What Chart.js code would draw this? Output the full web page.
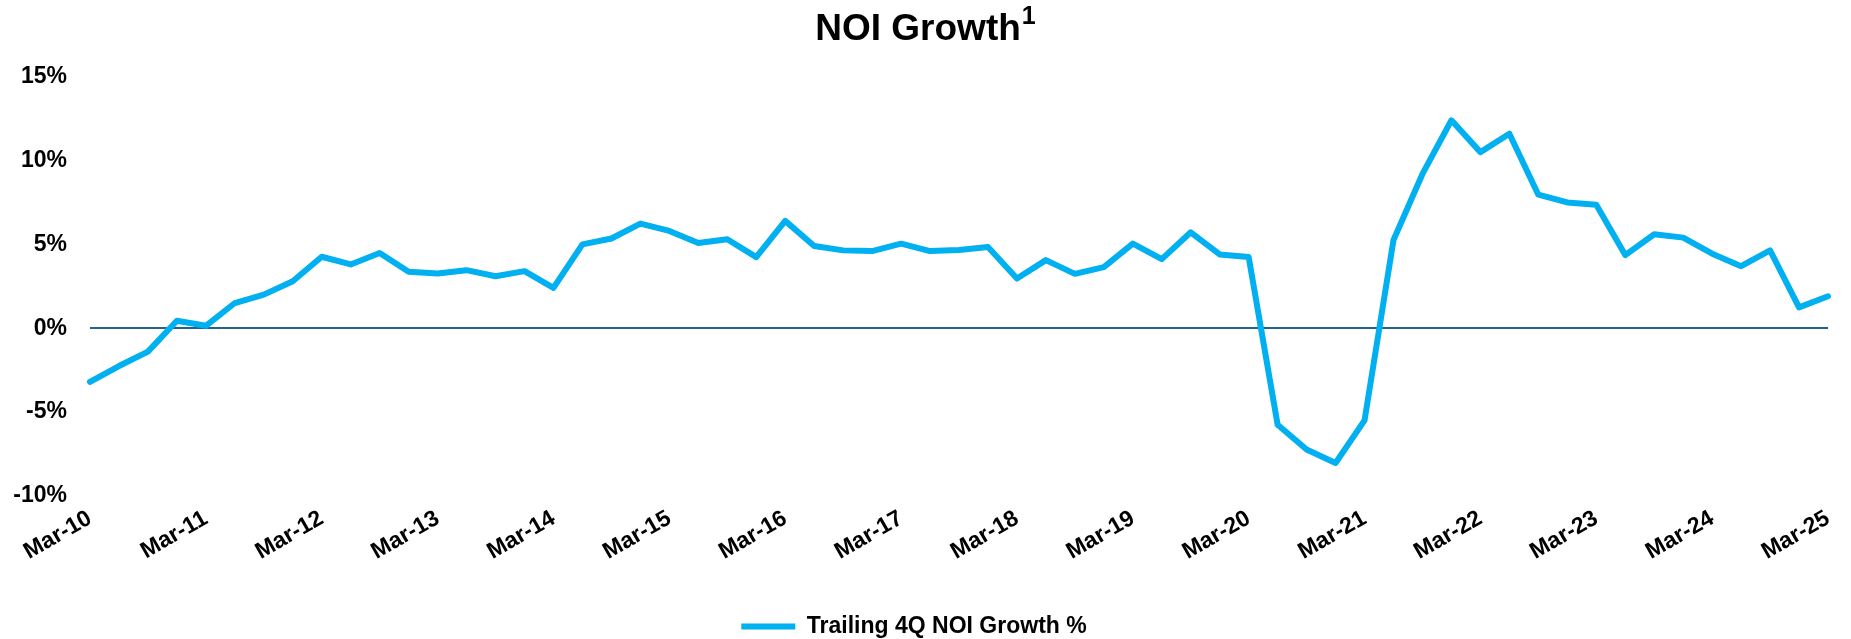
<!DOCTYPE html>
<html>
<head>
<meta charset="utf-8">
<title>NOI Growth</title>
<script src="https://cdn.jsdelivr.net/npm/chart.js@4/dist/chart.umd.min.js"></script>
<style>
    html, body { margin: 0; padding: 0; background: #ffffff; }
    #noiChart { display: block; }
</style>
</head>
<body>
<canvas id="noiChart" width="1851" height="639"></canvas>
<script>
// Quarterly periods, Mar-10 through Mar-25
const years = ['10', '11', '12', '13', '14', '15', '16', '17', '18', '19', '20', '21', '22', '23', '24', '25'];
const quarterMonths = ['Mar', 'Jun', 'Sep', 'Dec'];

const quarterLabels = [];
years.forEach((yy, i) => {
    quarterMonths.forEach(m => {
        if (i < years.length - 1 || m === 'Mar') quarterLabels.push(m + '-' + yy);
    });
});

// Trailing 4Q NOI growth, percent
const noiGrowth = [
    -3.2, -2.26, -1.4, 0.44, 0.14, 1.5, 2.0, 2.8, 4.26, 3.8,
    4.48, 3.36, 3.26, 3.46, 3.1, 3.4, 2.4, 5.0, 5.35, 6.24,
    5.8, 5.08, 5.3, 4.24, 6.4, 4.9, 4.64, 4.6, 5.04, 4.6,
    4.66, 4.84, 2.96, 4.06, 3.24, 3.64, 5.04, 4.12, 5.72, 4.4,
    4.25, -5.76, -7.24, -8.04, -5.5, 5.26, 9.2, 12.4, 10.5, 11.6,
    7.96, 7.5, 7.36, 4.36, 5.6, 5.4, 4.44, 3.7, 4.64, 1.24,
    1.9
];

const yTicks = [-10, -5, 0, 5, 10, 15];

const lineColor = '#00B0F0';
const zeroLineColor = '#1F6391';
const fontFamily = "'Liberation Sans', Arial, sans-serif";

// Title with a raised footnote marker
const titlePlugin = {
    id: 'noiTitle',
    afterDraw(chart) {
        const c = chart.ctx;
        const main = 'NOI Growth';
        const sup = '1';
        c.save();
        c.fillStyle = '#000000';
        c.textBaseline = 'alphabetic';
        c.textAlign = 'left';
        c.font = 'bold 37px ' + fontFamily;
        const w1 = c.measureText(main).width;
        c.font = 'bold 25px ' + fontFamily;
        const w2 = c.measureText(sup).width;
        const x0 = (chart.width - (w1 + 1 + w2)) / 2;
        c.font = 'bold 37px ' + fontFamily;
        c.fillText(main, x0, 39.5);
        c.font = 'bold 25px ' + fontFamily;
        c.fillText(sup, x0 + w1 + 1, 24);
        c.restore();
    }
};

const ctx = document.getElementById('noiChart');

new Chart(ctx, {
    type: 'line',
    data: {
        labels: quarterLabels,
        datasets: [{
            label: 'Trailing 4Q NOI Growth %',
            data: noiGrowth,
            borderColor: lineColor,
            backgroundColor: lineColor,
            borderWidth: 6,
            borderCapStyle: 'round',
            borderJoinStyle: 'round',
            pointRadius: 0,
            pointHoverRadius: 0,
            tension: 0,
            fill: false
        }]
    },
    options: {
        responsive: false,
        animation: false,
        layout: {
            padding: { left: 0, right: 23, top: 76.7, bottom: -9 }
        },
        scales: {
            x: {
                grid: { display: false },
                border: { display: false },
                ticks: {
                    autoSkip: false,
                    minRotation: 30,
                    maxRotation: 30,
                    padding: 1,
                    color: '#000000',
                    font: { family: fontFamily, size: 23, weight: 'bold' },
                    callback: function(value, index) {
                        return index % 4 === 0 ? this.getLabelForValue(value) : '';
                    }
                },
                afterFit: function(scale) {
                    scale.height = 117.7;
                }
            },
            y: {
                min: yTicks[0],
                max: yTicks[yTicks.length - 1],
                afterBuildTicks: function(scale) {
                    scale.ticks = yTicks.map(v => ({ value: v }));
                },
                border: { display: false },
                grid: {
                    drawTicks: false,
                    lineWidth: 2,
                    color: c => (c.tick && c.tick.value === 0) ? zeroLineColor : 'rgba(0,0,0,0)'
                },
                ticks: {
                    padding: 23,
                    color: '#000000',
                    font: { family: fontFamily, size: 23, weight: 'bold' },
                    callback: v => v + '%'
                },
                afterFit: function(scale) {
                    scale.width = 90;
                }
            }
        },
        plugins: {
            title: { display: false },
            legend: {
                position: 'bottom',
                labels: {
                    usePointStyle: true,
                    pointStyle: 'line',
                    pointStyleWidth: 54,
                    boxHeight: 23,
                    padding: 1.5,
                    color: '#000000',
                    font: { family: fontFamily, size: 23, weight: 'bold' }
                }
            },
            tooltip: { enabled: false }
        }
    },
    plugins: [titlePlugin]
});
</script>
</body>
</html>
